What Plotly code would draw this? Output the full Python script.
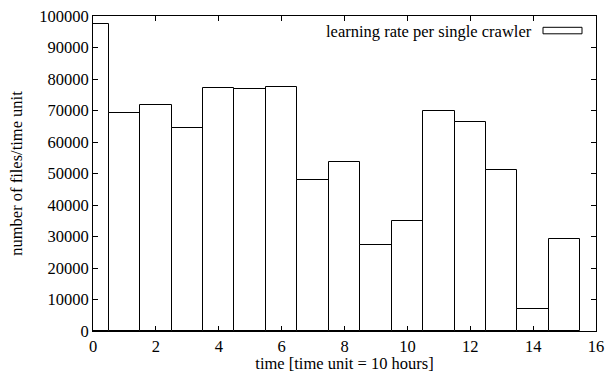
import plotly.graph_objects as go

time_units = list(range(16))
files_per_unit = [97400, 69200, 71700, 64400, 77100, 76900, 77600, 47800,
                  53700, 27400, 34800, 70000, 66300, 51200, 7100, 29100]
series_name = "learning rate per single crawler"
x_ticks = [0, 2, 4, 6, 8, 10, 12, 14, 16]
y_ticks = list(range(0, 100001, 10000))

FONT = "'Liberation Serif', 'Times New Roman', 'DejaVu Serif', serif"
FS = 16.5

fig = go.Figure()
fig.add_trace(go.Bar(
    x=time_units, y=files_per_unit, width=1.0, name=series_name,
    marker=dict(color="white", line=dict(color="black", width=1)),
    showlegend=False,
))

fig.update_layout(
    width=607, height=373,
    margin=dict(l=93, r=11, t=16, b=42),
    paper_bgcolor="white", plot_bgcolor="white",
    font=dict(family=FONT, size=FS, color="black"),
    bargap=0,
)
fig.update_xaxes(
    range=[0, 16], tickvals=x_ticks, ticks="inside", ticklen=5, tickcolor="black",
    showline=True, linecolor="black", linewidth=1, mirror="ticks",
    showgrid=False, zeroline=False, automargin=False,
    tickfont=dict(family="Times New Roman", size=FS, color="black"),
    title=dict(text="time [time unit = 10 hours]", standoff=2,
               font=dict(family=FONT, size=FS, color="black")),
)
fig.update_yaxes(
    range=[0, 100000], tickvals=y_ticks, tickformat="d", ticks="inside", ticklen=5,
    tickcolor="black",
    showline=True, linecolor="black", linewidth=1, mirror="ticks",
    showgrid=False, zeroline=False, automargin=False,
    tickfont=dict(family="serif", size=FS, color="black"),
    title=dict(text="number of files/time unit", standoff=12,
               font=dict(family=FONT, size=FS, color="black")),
)

# gnuplot-style legend: text followed by a wide box sample
fig.add_annotation(
    xref="paper", yref="paper", x=(534 - 93) / 503, y=(330.7 - 31) / 315,
    text=series_name, showarrow=False, xanchor="right", yanchor="middle",
    font=dict(family=FONT, size=FS, color="black"),
)
fig.add_shape(
    type="rect", xref="paper", yref="paper",
    x0=(543 - 93) / 503, x1=(582 - 93) / 503,
    y0=(330.7 - 33.5) / 315, y1=(330.7 - 27) / 315,
    line=dict(color="black", width=1), fillcolor="white",
)

fig.write_html("out.html", config={"displayModeBar": False},
               post_script="document.body.style.margin='0';")
